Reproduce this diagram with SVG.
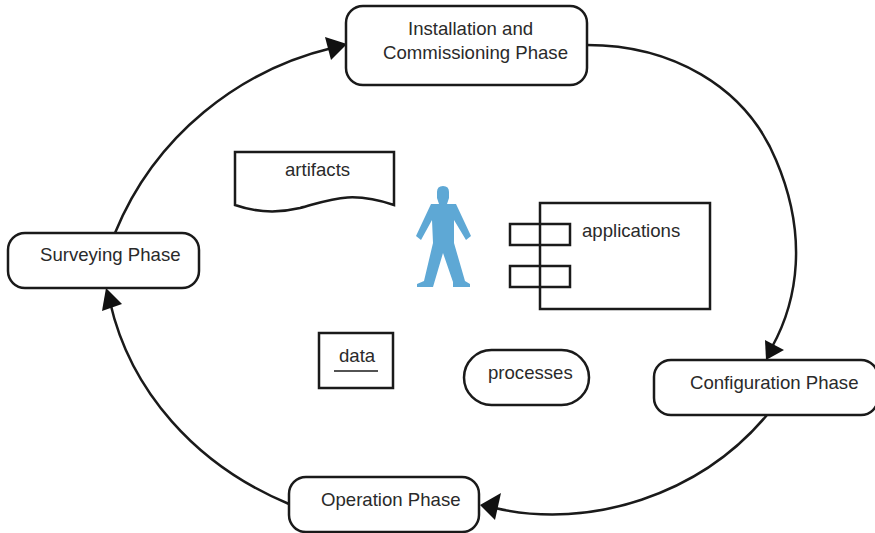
<svg xmlns="http://www.w3.org/2000/svg" width="875" height="533" viewBox="0 0 875 533">
<style>
.s{fill:#fff;stroke:#1a1a1a;stroke-width:2.5}
.c{fill:none;stroke:#1a1a1a;stroke-width:2.5}
.a{fill:#111}
text{font-family:"Liberation Sans",Arial,sans-serif;font-size:18.6px;fill:#2a2a2a}
</style>
<rect width="875" height="533" fill="#fff"/>
<g id="connectors">
<path class="c" d="M115 233C155 135 240 70 332 48"/>
<polygon class="a" points="347,44 325,37 331,60"/>
<path class="c" d="M587 45C670 45 745 85 776 160C808 235 798 300 772 347"/>
<polygon class="a" points="766,360 765,340 784,350"/>
<path class="c" d="M767 415C700 495 590 530 495 508"/>
<polygon class="a" points="480,505 501,493 495,520"/>
<path class="c" d="M289 504C195 465 130 390 110 302"/>
<polygon class="a" points="106,288 102,311 122,304"/>
</g>
<g id="installation"><rect class="s" x="346" y="6" width="241" height="79" rx="17"/><text x="408" y="35">Installation and</text><text x="383" y="59">Commissioning Phase</text></g>
<g id="surveying"><rect class="s" x="8" y="233" width="191" height="55" rx="17"/><text x="40" y="261">Surveying Phase</text></g>
<g id="configuration"><rect class="s" x="654" y="360" width="224" height="55" rx="17"/><text x="690" y="389">Configuration Phase</text></g>
<g id="operation"><rect class="s" x="289" y="477" width="190" height="55" rx="17"/><text x="321" y="506">Operation Phase</text></g>
<g id="artifacts"><path class="s" d="M235 152H394V205C350 190 330 200 300 208C275 214 255 212 235 205Z"/><text x="285" y="176">artifacts</text></g>
<g id="user"><path fill="#5ea8d5" d="M437 192Q437 186 443 186Q449 186 449 192V198L447 204H456L471 236L466 240L454 220L454 243L465 281L470 284V287H453V282L443 253L433 287H417V284L424 281L433 243L432 220L421 240L416 236L431 204H439L437 198Z"/></g>
<g id="applications"><rect class="s" x="540" y="203" width="170" height="106"/><rect class="c" x="510" y="224" width="60" height="21"/><rect class="c" x="510" y="266" width="60" height="21"/><text x="582" y="237">applications</text></g>
<g id="data"><rect class="s" x="319" y="333" width="74" height="55"/><line class="c" x1="334" y1="371" x2="378" y2="371" style="stroke-width:1.3"/><text x="339" y="362">data</text></g>
<g id="processes"><rect class="s" x="464" y="350" width="125" height="55" rx="27.5"/><text x="488" y="379">processes</text></g>
</svg>
